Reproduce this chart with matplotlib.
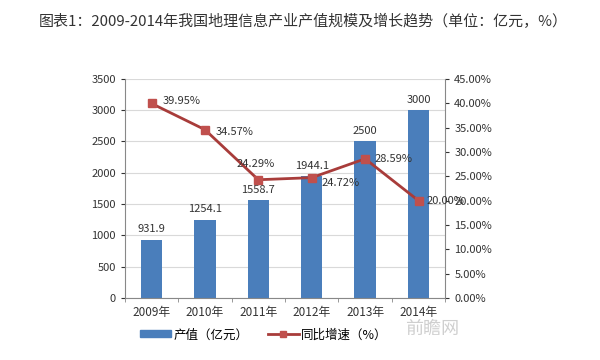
import matplotlib
matplotlib.use("Agg")
import matplotlib.pyplot as plt
from matplotlib.ticker import PercentFormatter
from matplotlib.patches import Patch
from matplotlib.lines import Line2D

plt.rcParams['font.family'] = ['Noto Sans CJK SC', 'DejaVu Sans']

# data
years = ['2009年', '2010年', '2011年', '2012年', '2013年', '2014年']
output = [931.9, 1254.1, 1558.7, 1944.1, 2500, 3000]
growth = [39.95, 34.57, 24.29, 24.72, 28.59, 20.00]
output_labels = ['931.9', '1254.1', '1558.7', '1944.1', '2500', '3000']
growth_labels = ['39.95%', '34.57%', '24.29%', '24.72%', '28.59%', '20.00%']

fig = plt.figure(figsize=(6, 3.6), dpi=100)
ax = fig.add_axes([0.208, 0.172, 0.534, 0.609])
x = range(len(years))

ax.bar(x, output, width=0.4, color='#4a7ebb', zorder=2)
ax.set_ylim(0, 3500)
ax.set_yticks(range(0, 3501, 500))
ax.set_xlim(-0.5, 5.5)
ax.set_xticks(list(x))
ax.set_xticklabels(years)
ax.yaxis.grid(True, color='#d9d9d9', lw=0.8, zorder=0)
for s in ['top', 'right']:
    ax.spines[s].set_visible(False)
ax.spines['left'].set_color('#888888')
ax.spines['bottom'].set_color('#888888')
ax.tick_params(labelsize=8, colors='#333333', length=3)
ax.tick_params(axis='x', length=0, pad=6, labelsize=8.5)
# small ticks between categories, excel style
ax.set_xticks([i + 0.5 for i in range(-1, 6)], minor=True)
ax.tick_params(axis='x', which='minor', length=3, color='#888888')

for i, v in enumerate(output):
    ax.annotate(output_labels[i], (i, v), xytext=(0, 4), textcoords='offset points',
                ha='center', va='bottom', fontsize=8, color='#333333', zorder=5)

ax2 = ax.twinx()
ax2.plot(x, growth, color='#a83c3a', lw=2, marker='s', markersize=6,
         markerfacecolor='#c0504d', markeredgecolor='#c0504d', zorder=4)
ax2.set_ylim(0, 45)
ax2.set_yticks(range(0, 46, 5))
ax2.yaxis.set_major_formatter(PercentFormatter(decimals=2))
for s in ['top', 'left', 'bottom']:
    ax2.spines[s].set_visible(False)
ax2.spines['right'].set_color('#888888')
ax2.tick_params(labelsize=8, colors='#333333', length=3)

offsets = [(8, 2), (8, -2), (-2, 8), (7, -4), (7, 0), (6, 0)]
for i, v in enumerate(growth):
    dx, dy = offsets[i]
    ha = 'center' if i == 2 else 'left'
    ax2.annotate(growth_labels[i], (i, v), xytext=(dx, dy), textcoords='offset points',
                 ha=ha, va='center' if i != 2 else 'bottom', fontsize=8, color='#333333', zorder=6)

fig.text(0.505, 0.94, '图表1：2009-2014年我国地理信息产业产值规模及增长趋势（单位：亿元，%）',
         ha='center', va='center', fontsize=10.8, color='#333333')

# watermark
fig.text(0.72, 0.085, '前瞻网', ha='center', va='center', fontsize=13, color='#b0b0b0', alpha=0.6)

handles = [Patch(color='#4a7ebb'),
           Line2D([0], [0], color='#a83c3a', lw=2, marker='s', markersize=5,
                  markerfacecolor='#c0504d', markeredgecolor='#c0504d')]
fig.legend(handles, ['产值（亿元）', '同比增速（%）'], loc='center', bbox_to_anchor=(0.44, 0.07),
           ncol=2, frameon=False, fontsize=9, handlelength=2.5, handleheight=0.5,
           columnspacing=1.5, handletextpad=0.2)

fig.savefig('out.png', dpi=100, facecolor='white')
